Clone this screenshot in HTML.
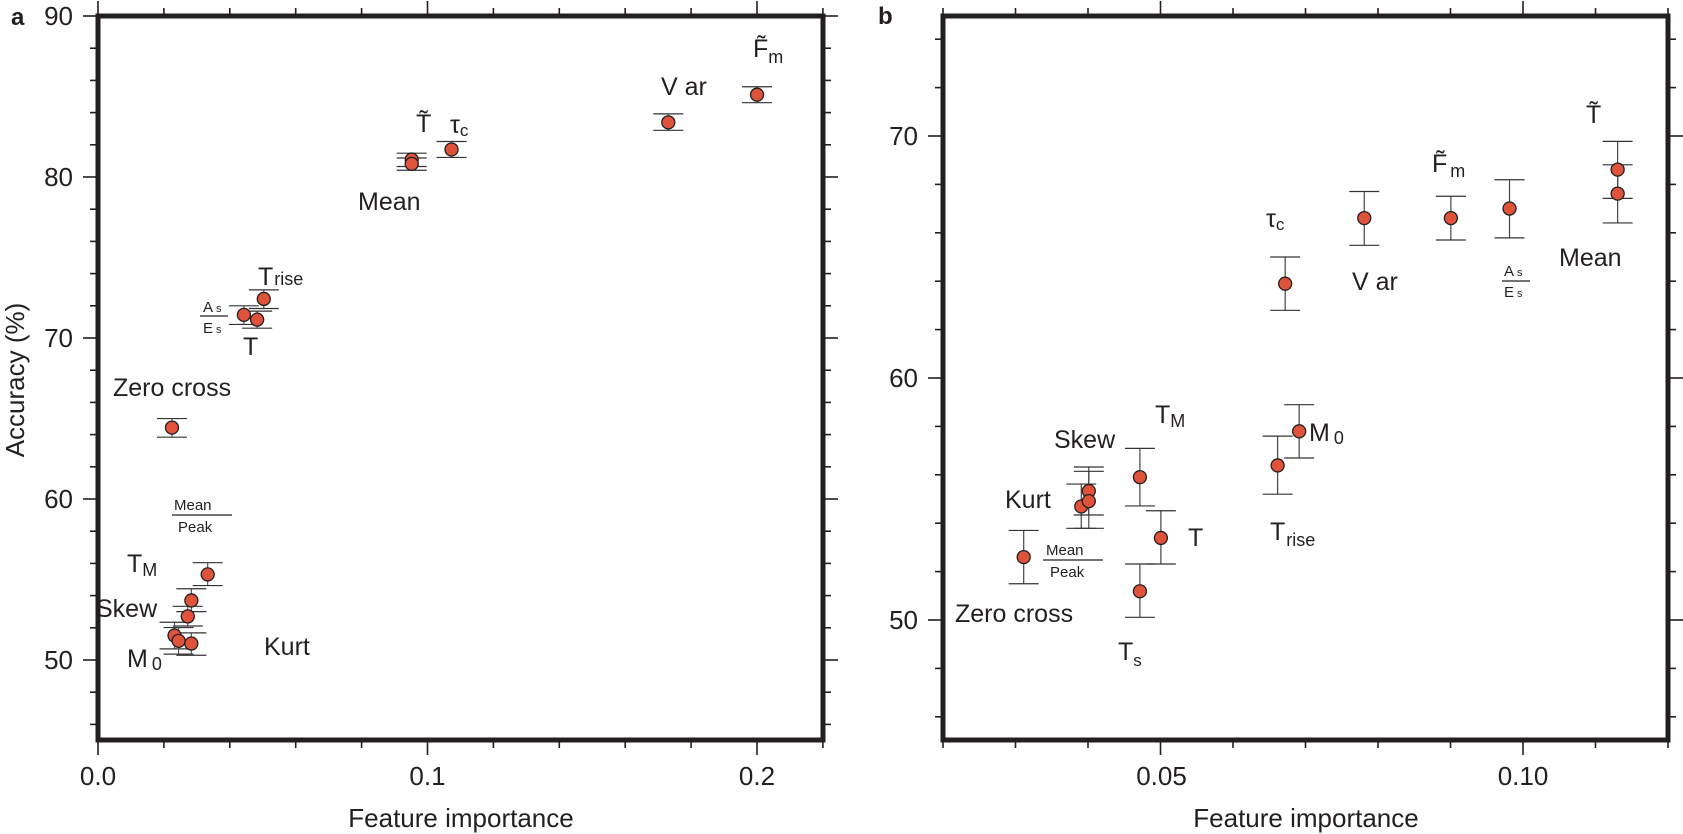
<!DOCTYPE html>
<html><head><meta charset="utf-8"><style>
html,body{margin:0;padding:0;background:#fff;}
svg{display:block;font-family:"Liberation Sans",Arial,sans-serif;}
.lb{font-size:25px;fill:#231f20;}
.tk{font-size:26px;fill:#231f20;}
.fr{font-size:15px;fill:#231f20;}
</style></head><body>
<svg id="s" width="1683" height="834" viewBox="0 0 1683 834" xmlns="http://www.w3.org/2000/svg">
<defs>
<clipPath id="ca"><rect x="98" y="16" width="725" height="724"/></clipPath>
<clipPath id="cb"><rect x="943" y="16" width="725" height="724"/></clipPath>
</defs>
<g id="ga"></g><g id="gb"></g>
<!-- frames -->
<rect x="98" y="16" width="725" height="724" fill="none" stroke="#231f20" stroke-width="5"/>
<rect x="943" y="16" width="725" height="724" fill="none" stroke="#231f20" stroke-width="5"/>
<g id="ticks"></g>
<!-- panel letters -->
<text x="11" y="25" style="font-size:24px;font-weight:bold" fill="#231f20">a</text>
<text x="878" y="24" style="font-size:24px;font-weight:bold" fill="#231f20">b</text>
<!-- panel a tick labels -->
<g class="tk" text-anchor="end">
<text x="73" y="25">90</text><text x="73" y="186">80</text><text x="73" y="347">70</text><text x="73" y="508">60</text><text x="73" y="669">50</text>
<text x="918" y="145">70</text><text x="918" y="387">60</text><text x="918" y="629">50</text>
</g>
<g class="tk" text-anchor="middle">
<text x="98" y="785">0.0</text><text x="427.5" y="785">0.1</text><text x="757" y="785">0.2</text>
<text x="1161.5" y="785">0.05</text><text x="1523" y="785">0.10</text>
<text x="461" y="827" style="font-size:26px">Feature importance</text>
<text x="1306" y="827" style="font-size:26px">Feature importance</text>
<text transform="translate(24,380) rotate(-90)" style="font-size:26px">Accuracy (%)</text>
</g>
<!-- panel a labels -->
<g class="lb" clip-path="url(#ca)">
<text x="753" y="57">F&#771;<tspan font-size="18" dy="6">m</tspan></text>
<text x="661" y="95">V ar</text>
<text x="416" y="132">T&#771;</text>
<text x="450" y="133">τ<tspan font-size="17" dy="3">c</tspan></text>
<text x="358" y="210">Mean</text>
<text x="258" y="285">T<tspan font-size="18" dx="1">rise</tspan></text>
<text x="243" y="355">T</text>
<text x="113" y="396">Zero cross</text>
<text x="127" y="572">T<tspan font-size="18" dy="4">M</tspan></text>
<text x="96" y="617">Skew</text>
<text x="264" y="655">Kurt</text>
<text x="127" y="667">M<tspan font-size="18" dx="4" dy="3">0</tspan></text>
</g>
<g class="fr">
<text x="203" y="312">A<tspan font-size="11" dx="3">s</tspan></text>
<line x1="200" y1="316" x2="228" y2="316" stroke="#231f20" stroke-width="1.3"/>
<text x="203" y="333">E<tspan font-size="11" dx="3">s</tspan></text>
<text x="174" y="510">Mean</text>
<line x1="172" y1="515" x2="232" y2="515" stroke="#231f20" stroke-width="1.3"/>
<text x="178" y="532">Peak</text>
</g>
<!-- panel b labels -->
<g class="lb" clip-path="url(#cb)">
<text x="1586" y="123">T&#771;</text>
<text x="1432" y="172">F&#771;<tspan font-size="18" dy="5" dx="3">m</tspan></text>
<text x="1266" y="227">τ<tspan font-size="17" dy="3">c</tspan></text>
<text x="1559" y="266">Mean</text>
<text x="1352" y="290">V ar</text>
<text x="1155" y="423">T<tspan font-size="18" dy="4">M</tspan></text>
<text x="1309" y="441">M<tspan font-size="18" dx="4" dy="3">0</tspan></text>
<text x="1054" y="448">Skew</text>
<text x="1005" y="508">Kurt</text>
<text x="1188" y="546">T</text>
<text x="1270" y="540">T<tspan font-size="18" dx="1" dy="6">rise</tspan></text>
<text x="955" y="622">Zero cross</text>
<text x="1118" y="660">T<tspan font-size="17" dy="6">s</tspan></text>
</g>
<g class="fr">
<text x="1504" y="276">A<tspan font-size="11" dx="3">s</tspan></text>
<line x1="1502" y1="281" x2="1530" y2="281" stroke="#231f20" stroke-width="1.3"/>
<text x="1504" y="297">E<tspan font-size="11" dx="3">s</tspan></text>
<text x="1046" y="555">Mean</text>
<line x1="1043" y1="560" x2="1103" y2="560" stroke="#231f20" stroke-width="1.3"/>
<text x="1050" y="577">Peak</text>
</g>
<script>
(function(){
var NS="http://www.w3.org/2000/svg";
function el(p,n,a){var e=document.createElementNS(NS,n);for(var k in a)e.setAttribute(k,a[k]);p.appendChild(e);return e;}
var T=document.getElementById('ticks');
function ln(p,x1,y1,x2,y2,c,w){el(p,'line',{x1:x1,y1:y1,x2:x2,y2:y2,stroke:c||'#231f20','stroke-width':w||1.6});}
// panel a ticks
for(var v=46;v<=90;v+=2){var y=16+(90-v)*16.1,L=(v%10==0)?15:8;ln(T,98-L,y,98,y);ln(T,823,y,823+L,y);}
for(var i=0;i<=11;i++){var x=98+i*0.02*3295,L=(i==5||i==10||i==0)?15:8;ln(T,x,16,x,16-L);ln(T,x,740,x,740+L);}
// panel b ticks
for(var v=46;v<=74;v+=2){var y=620-(v-50)*24.2,L=(v%10==0)?15:8;ln(T,943-L,y,943,y);ln(T,1668,y,1668+L,y);}
for(var i=0;i<=10;i++){var x=943+i*72.5,L=(i==3||i==8)?15:8;ln(T,x,16,x,16-L);ln(T,x,740,x,740+L);}
// panel a data (zoom coords)
var A=el(document.getElementById('ga'),'g',{'clip-path':'url(#ca)'});
function ax(z){return 98+(z-190)*0.5101;} function ay(z){return 16+(z-30)*0.5318;}
var da=[[1482,178,163,193],[1308,230,214,245],[883,281,266,296],[805,300,288,313],[805,308,297,320],
[515,562,545,580],[476,592,575,610],[502,601,585,617],[335,804,787,822],[405,1080,1058,1101],
[373,1129,1107,1150],[366,1159,1140,1177],[340,1195,1170,1220],[348,1205,1180,1230],[373,1210,1190,1232]];
da.forEach(function(d){var x=ax(d[0]);ln(A,x,ay(d[2]),x,ay(d[3]),'#555',1.2);ln(A,x-15,ay(d[2]),x+15,ay(d[2]),'#333',1.2);ln(A,x-15,ay(d[3]),x+15,ay(d[3]),'#333',1.2);});
da.forEach(function(d){el(A,'circle',{cx:ax(d[0]),cy:ay(d[1]),r:6.5,fill:'#e0533b',stroke:'#231f20','stroke-width':1.3});});
// panel b
var B=el(document.getElementById('gb'),'g',{'clip-path':'url(#cb)'});
function bx(z){return 943+(z-190)*0.538;} function by(z){return 620+(z-1165)*0.533;}
var db=[[340,1047,997,1097],[447,952,910,993],[461,923,878,968],[461,942,886,993],[556,897,843,951],
[595,1011,960,1060],[556,1111,1060,1160],[812,875,820,929],[852,811,761,861],[826,534,484,584],
[973,411,361,462],[1134,411,370,452],[1243,393,339,448],[1444,320,267,374],[1444,365,311,420]];
db.forEach(function(d){var x=bx(d[0]);ln(B,x,by(d[2]),x,by(d[3]),'#444',1.2);ln(B,x-15,by(d[2]),x+15,by(d[2]),'#333',1.2);ln(B,x-15,by(d[3]),x+15,by(d[3]),'#333',1.2);});
db.forEach(function(d){el(B,'circle',{cx:bx(d[0]),cy:by(d[1]),r:6.5,fill:'#e0533b',stroke:'#231f20','stroke-width':1.3});});
})();
</script>
</svg>
</body></html>
